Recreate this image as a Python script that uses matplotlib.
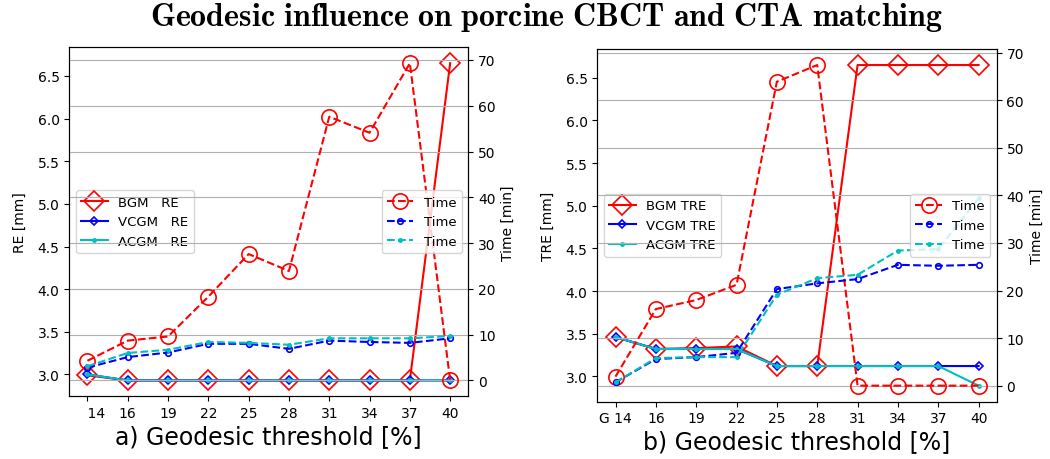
import matplotlib
matplotlib.use("Agg")
import matplotlib.pyplot as plt

# valores
thresholds_a = ['    14', '16', '19', '22', '25', '28', '31', '34', '37', '40']
thresholds_b = ['G 14', '16', '19', '22', '25', '28', '31', '34', '37', '40']

# a) RE [mm]
bgm_re = [2.99, 2.93, 2.93, 2.93, 2.93, 2.93, 2.93, 2.93, 2.93, 6.65]
vcgm_re = [3.00, 2.93, 2.93, 2.93, 2.93, 2.93, 2.93, 2.93, 2.93, 2.93]
acgm_re = [3.00, 2.93, 2.93, 2.93, 2.93, 2.93, 2.93, 2.93, 2.93, 2.93]
# a) tempo [min]
bgm_time_a = [4.3, 8.7, 9.6, 18.3, 27.6, 23.9, 57.6, 54.1, 69.3, 0.0]
vcgm_time_a = [2.8, 5.1, 6.1, 8.0, 8.0, 6.9, 8.7, 8.4, 8.2, 9.2]
acgm_time_a = [3.1, 6.0, 6.7, 8.4, 8.2, 7.8, 9.2, 9.2, 9.2, 9.7]

# b) TRE [mm]
bgm_tre = [3.46, 3.32, 3.33, 3.35, 3.12, 3.12, 6.65, 6.65, 6.65, 6.65]
vcgm_tre = [3.46, 3.32, 3.32, 3.32, 3.12, 3.12, 3.12, 3.12, 3.12, 3.12]
acgm_tre = [3.46, 3.32, 3.32, 3.32, 3.12, 3.12, 3.12, 3.12, 3.12, 2.89]
# b) tempo [min]
bgm_time_b = [1.9, 16.1, 18.0, 21.2, 63.9, 67.4, 0.0, 0.0, 0.0, 0.0]
vcgm_time_b = [0.7, 5.6, 6.0, 6.9, 20.3, 21.5, 22.4, 25.4, 25.2, 25.4]
acgm_time_b = [0.7, 5.8, 6.0, 6.0, 19.1, 22.6, 23.3, 28.4, 28.7, 39.4]

plt.rcParams['font.size'] = 10
plt.rcParams['mathtext.fontset'] = 'cm'

fig = plt.figure(figsize=(10.5, 4.6), dpi=100)
fig.text(0.52, 0.963,
         r'$\mathbf{Geodesic\ influence\ on\ porcine\ CBCT\ and\ CTA\ matching}$',
         ha='center', va='center', fontsize=23)


def painel(pos, labels, err, tempo, nomes, ylabel, xlabel):
    ax = fig.add_axes(pos)
    x = list(range(len(labels)))
    ax.plot(x, err[0], 'r-', marker='D', ms=10, mfc='none', mew=1.2, lw=1.5, label=nomes[0])
    ax.plot(x, err[1], 'b-', marker='D', ms=4, mfc='none', mew=1.2, lw=1.5, label=nomes[1])
    ax.plot(x, err[2], 'c-', marker='.', ms=5, lw=1.5, label=nomes[2])
    ax.set_ylabel(ylabel, labelpad=8)
    ax.set_xlabel(xlabel, fontsize=17, labelpad=3)
    ax.set_xticks(x)
    ax.set_xticklabels(labels)
    ax.legend(loc='center left', fontsize=9.5)

    ax2 = ax.twinx()
    ax2.plot(x, tempo[0], 'r--', marker='o', ms=11, mfc='none', mew=1.2, lw=1.5, label='Time')
    ax2.plot(x, tempo[1], 'b--', marker='o', ms=4, mfc='none', mew=1.2, lw=1.5, label='Time')
    ax2.plot(x, tempo[2], 'c--', marker='.', ms=5, lw=1.5, label='Time')
    ax2.set_ylabel('Time [min]')
    ax2.grid(True, axis='y')
    ax2.legend(loc='center right', fontsize=9.5)
    return ax, ax2


painel([0.066, 0.1363, 0.38, 0.7587], thresholds_a,
       [bgm_re, vcgm_re, acgm_re], [bgm_time_a, vcgm_time_a, acgm_time_a],
       ['BGM   RE', 'VCGM   RE', 'ACGM   RE'], 'RE [mm]', 'a) Geodesic threshold [%]')
painel([0.5689, 0.1246, 0.3804, 0.7667], thresholds_b,
       [bgm_tre, vcgm_tre, acgm_tre], [bgm_time_b, vcgm_time_b, acgm_time_b],
       ['BGM TRE', 'VCGM TRE', 'ACGM TRE'], 'TRE [mm]', 'b) Geodesic threshold [%]')

fig.savefig('out.png', dpi=100)
